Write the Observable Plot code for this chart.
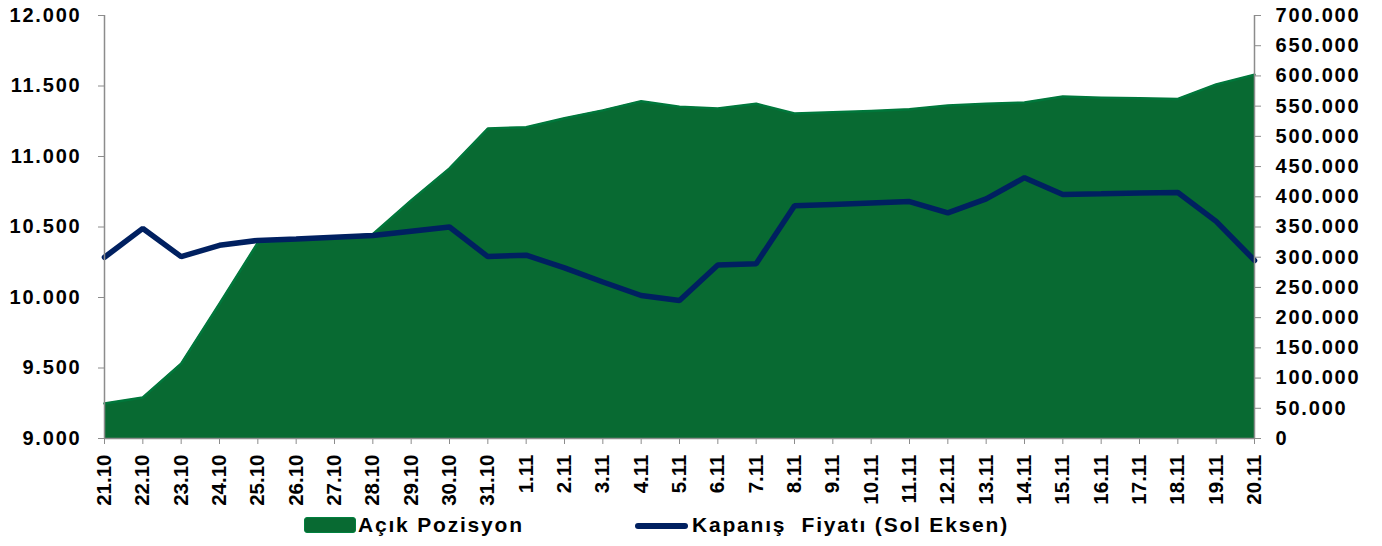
<!DOCTYPE html>
<html><head><meta charset="utf-8">
<script src="https://cdn.jsdelivr.net/npm/d3@7"></script>
<script src="https://cdn.jsdelivr.net/npm/@observablehq/plot@0.6"></script>
<style>
body{margin:0;background:#fff;font-family:"Liberation Sans",Arial,sans-serif;}
#wrap{position:relative;width:1382px;height:546px;overflow:hidden;}
#chart svg{display:block;}
.lg{position:absolute;font:bold 21px "Liberation Sans",Arial,sans-serif;letter-spacing:1.8px;white-space:pre;color:#000;line-height:1;}
.sw1{position:absolute;left:304px;top:517px;width:50px;height:14px;background:#086a32;border:1px solid #00803e;border-radius:3px;}
.sw2{position:absolute;left:635px;top:523px;width:53px;height:6px;background:#002060;border-radius:3px;}
</style></head><body>
<div id="wrap"><div id="chart"></div>
<div class="sw1"></div><div class="lg" style="left:358px;top:514px;">Açık Pozisyon</div>
<div class="sw2"></div><div class="lg" style="left:692px;top:514px;">Kapanış  Fiyatı (Sol Eksen)</div>
</div>
<script>
const dates = ["21.10","22.10","23.10","24.10","25.10","26.10","27.10","28.10","29.10","30.10","31.10","1.11","2.11","3.11","4.11","5.11","6.11","7.11","8.11","9.11","10.11","11.11","12.11","13.11","14.11","15.11","16.11","17.11","18.11","19.11","20.11"];
const price = [10285,10490,10290,10370,10405,10415,10428,10440,10470,10500,10290,10300,10210,10110,10014,9979,10230,10240,10650,10660,10670,10680,10600,10700,10850,10730,10735,10742,10745,10540,10263];
const openPos = [58000,68000,124000,223000,324000,329000,333000,338000,394000,447000,513000,515000,530000,543000,558000,549000,546000,554000,538000,540000,542000,545000,551000,554000,556000,566000,564000,563000,562000,586000,602000];
const leftTicks = [9000,9500,10000,10500,11000,11500,12000];
const rightTicks = [0,50000,100000,150000,200000,250000,300000,350000,400000,450000,500000,550000,600000,650000,700000];

const locale = d3.formatLocale({decimal:",",thousands:".",grouping:[3],currency:["",""]});
const fmt = locale.format(",d");
const lMin = 9000, lMax = 12000, rMax = 700000;
const toLeft = v => lMin + v / rMax * (lMax - lMin);
const toRight = y => (y - lMin) / (lMax - lMin) * rMax;

const rows = dates.map((d, i) => ({date: d, price: price[i], pos: openPos[i]}));

const chart = Plot.plot({
  width: 1382, height: 546,
  marginLeft: 104, marginRight: 128, marginTop: 15, marginBottom: 108,
  style: {fontFamily: "Liberation Sans, Arial, sans-serif", fontWeight: "bold", fontSize: "20px", color: "#000", background: "#fff"},
  x: {type: "point", domain: dates, padding: 0, round: false},
  y: {domain: [lMin, lMax]},
  marks: [
    Plot.areaY(rows, {x: "date", y1: lMin, y2: d => toLeft(d.pos), fill: "#086a32"}),
    Plot.lineY(rows, {x: "date", y: d => toLeft(d.pos), stroke: "#00773b", strokeWidth: 2.5}),
    Plot.lineY(rows, {x: "date", y: "price", stroke: "#002060", strokeWidth: 5.5, strokeLinejoin: "miter"}),
    Plot.ruleX([dates[0]], {stroke: "#8c8c8c", strokeWidth: 1.5}),
    Plot.ruleX([dates[dates.length-1]], {stroke: "#8c8c8c", strokeWidth: 1.5}),
    Plot.ruleY([lMin], {stroke: "#8c8c8c", strokeWidth: 1.5}),
    Plot.axisY(leftTicks, {anchor: "left", tickSize: 6, tickPadding: 17, tickFormat: fmt, stroke: "#8c8c8c", fill: "#000", label: null, fontSize: 20}),
    Plot.axisY(rightTicks.map(toLeft), {anchor: "right", tickSize: 6, tickPadding: 15, tickFormat: v => fmt(Math.round(toRight(v))), stroke: "#8c8c8c", fill: "#000", label: null, fontSize: 20}),
    Plot.axisX(dates, {anchor: "bottom", tickSize: 6, tickPadding: 10, tickRotate: -90, stroke: "#8c8c8c", fill: "#000", label: null, fontSize: 20.5})
  ]
});
document.getElementById("chart").appendChild(chart);
// horizontal tick labels: widen slightly to mimic the reference's stretched type
chart.querySelectorAll('g[aria-label="y-axis tick label"] text').forEach(t => t.setAttribute("letter-spacing", "1.8"));
</script>
</body></html>
